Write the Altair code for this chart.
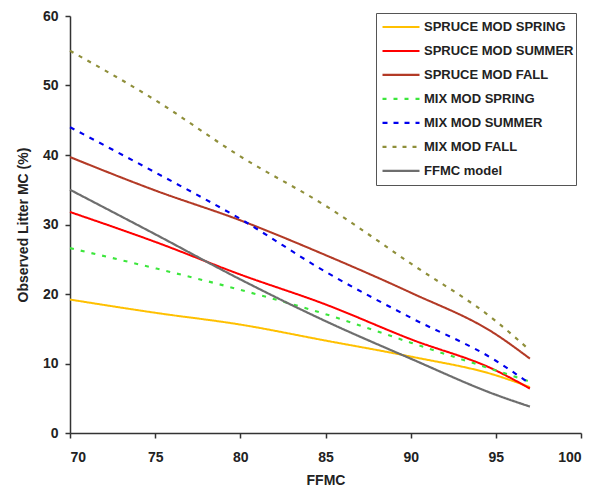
import altair as alt
import pandas as pd

ffmc = [70, 75, 80, 85, 90, 95, 97]
series_names = ["SPRUCE MOD SPRING", "SPRUCE MOD SUMMER", "SPRUCE MOD FALL",
                "MIX MOD SPRING", "MIX MOD SUMMER", "MIX MOD FALL", "FFMC model"]
spruce_spring = [19.2, 17.3, 15.6, 13.3, 11.0, 8.3, 6.6]
spruce_summer = [31.8, 27.5, 22.8, 18.5, 13.5, 9.0, 6.4]
spruce_fall = [39.7, 34.9, 30.6, 25.6, 20.2, 14.2, 10.7]
mix_spring = [26.6, 23.7, 20.6, 17.1, 13.0, 9.0, 7.4]
mix_summer = [44.0, 37.5, 30.8, 23.2, 16.6, 10.4, 7.1]
mix_fall = [55.0, 47.9, 39.8, 32.7, 24.4, 16.1, 11.9]
ffmc_model = [35.0, 28.6, 22.1, 16.1, 10.7, 5.5, 3.8]

x_ticks = [70, 75, 80, 85, 90, 95, 100]
y_ticks = [0, 10, 20, 30, 40, 50, 60]

colors = ["#FFC000", "#FF0000", "#B33A26", "#3CE63C", "#0000EE", "#8F8F3A", "#6E6E6E"]
dashes = [[1, 0], [1, 0], [1, 0], [4, 7], [5, 6], [4, 6], [1, 0]]
widths = [2, 2.2, 2.2, 3, 3, 3, 2]

all_vals = [spruce_spring, spruce_summer, spruce_fall, mix_spring, mix_summer, mix_fall, ffmc_model]
rows = []
for name, vals in zip(series_names, all_vals):
    for x, v in zip(ffmc, vals):
        rows.append({"FFMC": x, "MC": v, "Series": name})
df = pd.DataFrame(rows)

font = "Liberation Sans"

chart = alt.Chart(df).mark_line(interpolate="monotone").encode(
    x=alt.X("FFMC:Q",
            scale=alt.Scale(domain=[70, 100], nice=False, zero=False),
            axis=alt.Axis(values=x_ticks, title="FFMC", grid=False, format="d")),
    y=alt.Y("MC:Q",
            scale=alt.Scale(domain=[0, 60], nice=False),
            axis=alt.Axis(values=y_ticks, title="Observed Litter MC (%)", grid=False)),
    color=alt.Color("Series:N", sort=series_names,
                    scale=alt.Scale(domain=series_names, range=colors),
                    legend=alt.Legend(title=None, orient="none", legendX=306, legendY=-3,
                                      symbolType="stroke", symbolSize=1369, symbolOffset=3,
                                      symbolStrokeWidth=2.5, rowPadding=0, clipHeight=23.8,
                                      labelFont=font, labelFontSize=13, labelFontWeight="bold",
                                      labelColor="#222222", labelOffset=3,
                                      strokeColor="#555555", fillColor="white",
                                      padding=2)),
    strokeDash=alt.StrokeDash("Series:N", sort=series_names,
                              scale=alt.Scale(domain=series_names, range=dashes),
                              legend=None),
    strokeWidth=alt.StrokeWidth("Series:N", sort=series_names,
                                scale=alt.Scale(domain=series_names, range=widths),
                                legend=None),
).properties(
    width=511, height=417,
    autosize=alt.AutoSizeParams(type="none"),
    padding={"left": 62, "top": 8, "right": 13, "bottom": 57},
).configure_view(stroke=None).configure_axis(
    domainColor="#333333", tickColor="#333333", domainWidth=1.5, tickSize=5, tickWidth=1.5,
    labelFont=font, labelFontSize=14, labelFontWeight="bold", labelColor="#222222",
    titleFont=font, titleFontSize=14, titleFontWeight="bold", titleColor="#222222",
).configure_axisX(labelPadding=12, titlePadding=9).configure_axisY(labelPadding=7, titlePadding=12)

chart.save("out.html", embed_options={"renderer": "svg", "actions": False})
